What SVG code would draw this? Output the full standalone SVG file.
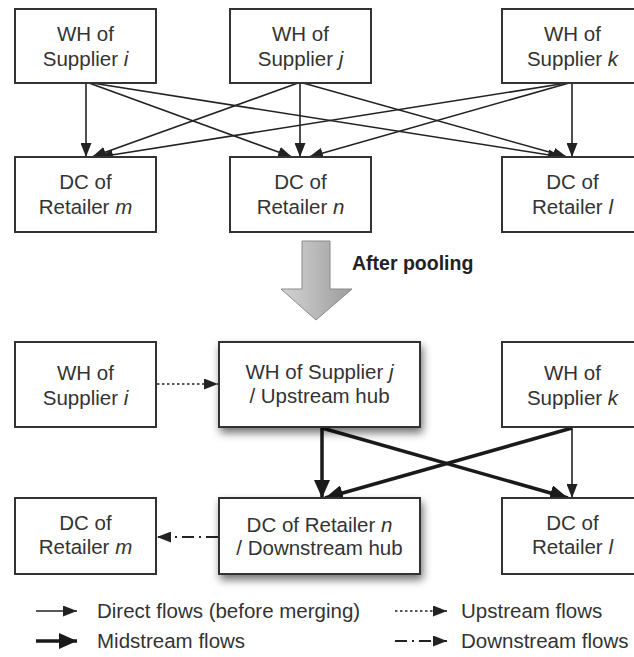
<svg xmlns="http://www.w3.org/2000/svg" width="634" height="657" viewBox="0 0 634 657">
<defs>
<style>
.box{fill:#fff;stroke:#333;stroke-width:2}
.t{font-family:"Liberation Sans",Arial,sans-serif;font-size:20.5px;fill:#333;text-anchor:middle}
.lg{font-family:"Liberation Sans",Arial,sans-serif;font-size:20.5px;fill:#333}
.thin{stroke:#222;stroke-width:1.6;fill:none}
.thick{stroke:#1a1a1a;stroke-width:3.5;fill:none}
.dot{stroke:#222;stroke-width:1.6;fill:none;stroke-dasharray:2.5 2.5}
.dd{stroke:#222;stroke-width:2;fill:none;stroke-dasharray:12 5 2 5}
</style>
<marker id="ah" markerUnits="userSpaceOnUse" markerWidth="14" markerHeight="11" refX="14" refY="5.5" orient="auto"><path d="M0,0 L14,5.5 L0,11 z" fill="#222"/></marker>
<marker id="ahb" markerUnits="userSpaceOnUse" markerWidth="18" markerHeight="16" refX="18" refY="8" orient="auto"><path d="M0,0 L18,8 L0,16 z" fill="#1a1a1a"/></marker>
<linearGradient id="gg" x1="0" y1="0" x2="1" y2="0"><stop offset="0" stop-color="#d4d4d4"/><stop offset="1" stop-color="#9c9c9c"/></linearGradient>
<filter id="sh" x="-20%" y="-20%" width="140%" height="150%"><feDropShadow dx="2" dy="5" stdDeviation="4" flood-color="#000" flood-opacity="0.55"/></filter>
</defs>

<g id="connectors">
<line class="thin" x1="86" y1="83" x2="86" y2="157" marker-end="url(#ah)"/>
<line class="thin" x1="89" y1="83" x2="292" y2="157" marker-end="url(#ah)"/>
<line class="thin" x1="92" y1="83" x2="562" y2="157" marker-end="url(#ah)"/>
<line class="thin" x1="300" y1="83" x2="300" y2="157" marker-end="url(#ah)"/>
<line class="thin" x1="298" y1="83" x2="92" y2="157" marker-end="url(#ah)"/>
<line class="thin" x1="303" y1="83" x2="567" y2="157" marker-end="url(#ah)"/>
<line class="thin" x1="572" y1="83" x2="572" y2="157" marker-end="url(#ah)"/>
<line class="thin" x1="567" y1="83" x2="99" y2="157" marker-end="url(#ah)"/>
<line class="thin" x1="569" y1="83" x2="309" y2="157" marker-end="url(#ah)"/>

<line class="dot" x1="157" y1="384" x2="218" y2="384" marker-end="url(#ah)"/>
<line class="thick" x1="322" y1="428" x2="322" y2="498" marker-end="url(#ahb)"/>
<line class="thick" x1="322" y1="428" x2="568" y2="498" marker-end="url(#ahb)"/>
<line class="thick" x1="572" y1="428" x2="325" y2="498" marker-end="url(#ahb)"/>
<line class="thin" x1="572" y1="428" x2="572" y2="498" marker-end="url(#ah)"/>
<line class="dd" x1="218" y1="537" x2="157" y2="537" marker-end="url(#ah)"/>
</g>

<g id="pool-arrow">
<path d="M302,241 L330,241 L330,289 L352,289 L316,320 L281,289 L302,289 z" fill="url(#gg)" stroke="#8a8a8a" stroke-width="1"/>
<text x="352" y="270" font-family="'Liberation Sans',Arial,sans-serif" font-size="19.5" font-weight="bold" fill="#222">After pooling</text>
</g>

<g id="wh-i-top"><rect class="box" x="15" y="9" width="141" height="74"/><text class="t" x="85.5" y="41">WH of</text><text class="t" x="85.5" y="66">Supplier <tspan font-style="italic">i</tspan></text></g>
<g id="wh-j-top"><rect class="box" x="230" y="9" width="141" height="74"/><text class="t" x="300.5" y="41">WH of</text><text class="t" x="300.5" y="66">Supplier <tspan font-style="italic">j</tspan></text></g>
<g id="wh-k-top"><rect class="box" x="502" y="9" width="141" height="74"/><text class="t" x="572.5" y="41">WH of</text><text class="t" x="572.5" y="66">Supplier <tspan font-style="italic">k</tspan></text></g>

<g id="dc-m-top"><rect class="box" x="15" y="157" width="141" height="75"/><text class="t" x="85.5" y="189">DC of</text><text class="t" x="85.5" y="214">Retailer <tspan font-style="italic">m</tspan></text></g>
<g id="dc-n-top"><rect class="box" x="230" y="157" width="141" height="75"/><text class="t" x="300.5" y="189">DC of</text><text class="t" x="300.5" y="214">Retailer <tspan font-style="italic">n</tspan></text></g>
<g id="dc-l-top"><rect class="box" x="502" y="157" width="141" height="75"/><text class="t" x="572.5" y="189">DC of</text><text class="t" x="572.5" y="214">Retailer <tspan font-style="italic">l</tspan></text></g>

<g id="wh-i-bot"><rect class="box" x="15" y="342" width="141" height="85"/><text class="t" x="85.5" y="380">WH of</text><text class="t" x="85.5" y="405">Supplier <tspan font-style="italic">i</tspan></text></g>
<g id="wh-j-hub"><rect class="box" x="219" y="342" width="201" height="85" filter="url(#sh)"/><text class="t" x="319.5" y="379">WH of Supplier <tspan font-style="italic">j</tspan></text><text class="t" x="319.5" y="403">/ Upstream hub</text></g>
<g id="wh-k-bot"><rect class="box" x="502" y="342" width="141" height="85"/><text class="t" x="572.5" y="380">WH of</text><text class="t" x="572.5" y="405">Supplier <tspan font-style="italic">k</tspan></text></g>

<g id="dc-m-bot"><rect class="box" x="15" y="498" width="141" height="76"/><text class="t" x="85.5" y="530">DC of</text><text class="t" x="85.5" y="554">Retailer <tspan font-style="italic">m</tspan></text></g>
<g id="dc-n-hub"><rect class="box" x="219" y="498" width="201" height="76" filter="url(#sh)"/><text class="t" x="319.5" y="532">DC of Retailer <tspan font-style="italic">n</tspan></text><text class="t" x="319.5" y="555">/ Downstream hub</text></g>
<g id="dc-l-bot"><rect class="box" x="502" y="498" width="141" height="76"/><text class="t" x="572.5" y="530">DC of</text><text class="t" x="572.5" y="554">Retailer <tspan font-style="italic">l</tspan></text></g>

<g id="legend">
<line class="thin" x1="36" y1="611" x2="77" y2="611" marker-end="url(#ah)"/>
<text class="lg" x="97" y="618">Direct flows (before merging)</text>
<line class="dot" x1="395" y1="611" x2="447" y2="611" marker-end="url(#ah)"/>
<text class="lg" x="461" y="618">Upstream flows</text>
<line class="thick" x1="36" y1="641" x2="77" y2="641" marker-end="url(#ahb)"/>
<text class="lg" x="97" y="648">Midstream flows</text>
<line class="dd" x1="395" y1="641" x2="447" y2="641" marker-end="url(#ah)"/>
<text class="lg" x="461" y="648">Downstream flows</text>
</g>
</svg>
